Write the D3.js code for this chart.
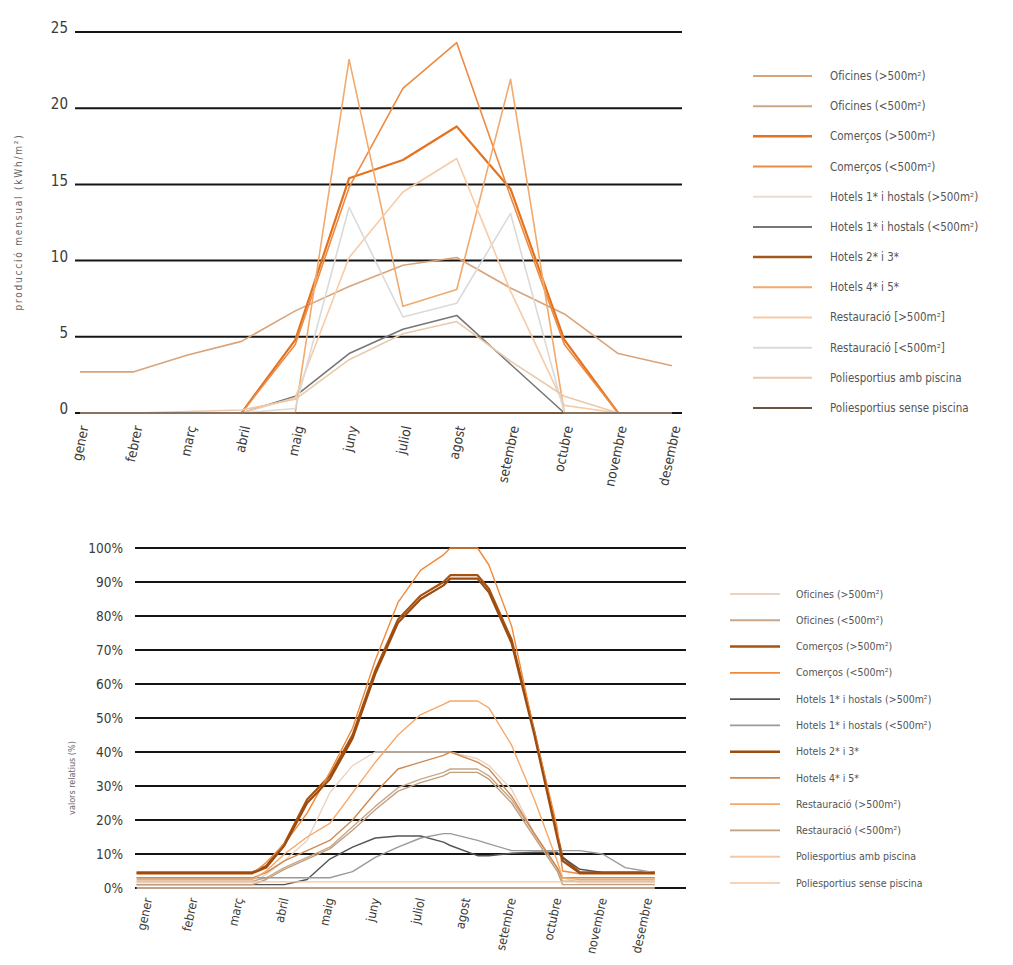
<!DOCTYPE html>
<html lang="ca">
<head>
<meta charset="UTF-8">
<title>Producció mensual</title>
<script src="https://d3js.org/d3.v7.min.js"></script>
<style>
  body { margin: 0; background: #fff; }
  svg text { font-family: "DejaVu Sans Condensed", "Liberation Sans Narrow", Arial, sans-serif; fill: #3a3a3a; }
</style>
</head>
<body>
<div id="chart"></div>
<script>
// ---- shared categories ----
const months = ["gener", "febrer", "març", "abril", "maig", "juny", "juliol", "agost", "setembre", "octubre", "novembre", "desembre"];

// ---- top chart: monthly production (kWh/m²) ----
const topTicks = [0, 5, 10, 15, 20, 25];
const topNames = ["Oficines (>500m²)", "Oficines (<500m²)", "Comerços (>500m²)", "Comerços (<500m²)",
  "Hotels 1* i hostals (>500m²)", "Hotels 1* i hostals (<500m²)", "Hotels 2* i 3*", "Hotels 4* i 5*",
  "Restauració [>500m²]", "Restauració [<500m²]", "Poliesportius amb piscina", "Poliesportius sense piscina"];
const topColors = ["#d9a47a", "#c9aa88", "#e4731f", "#ec8b45", "#e9ddd3", "#777777",
  "#a0581e", "#f2a96c", "#f7cba6", "#dadada", "#ebc9aa", "#6b5540"];

const oficinesGran = [2.7, 2.7, 3.8, 4.7, 6.7, 8.3, 9.7, 10.2, 8.2, 6.5, 3.9, 3.1];
const oficinesPetit = [0, 0, 0, 0, 0, 0, 0, 0, 0, 0, 0, 0];
const comercosGran = [0, 0, 0, 0, 4.8, 15.4, 16.6, 18.8, 14.7, 4.8, 0, 0];
const comercosPetit = [0, 0, 0, 0, 4.5, 14.8, 21.3, 24.3, 14.2, 4.5, 0, 0];
const hotels1Gran = [0, 0, 0, 0, 0, 0, 0, 0, 0, 0, 0, 0];
const hotels1Petit = [0, 0, 0, 0, 1.1, 3.9, 5.5, 6.4, 3.2, 0, 0, 0];
const hotels23 = [0, 0, 0, 0, 0, 0, 0, 0, 0, 0, 0, 0];
const hotels45 = [0, 0, 0, 0, 0, 23.2, 7.0, 8.1, 21.9, 0, 0, 0];
const restGran = [0, 0, 0, 0, 1.0, 10.2, 14.5, 16.7, 8.0, 0.5, 0, 0];
const restPetit = [0, 0, 0, 0, 0.3, 13.5, 6.3, 7.2, 13.1, 0, 0, 0];
const poliAmb = [0, 0, 0.1, 0.2, 0.9, 3.5, 5.2, 6.0, 3.4, 1.1, 0, 0];
const poliSense = [0, 0, 0, 0, 0, 0, 0, 0, 0, 0, 0, 0];
const topSeries = [oficinesGran, oficinesPetit, comercosGran, comercosPetit, hotels1Gran, hotels1Petit,
  hotels23, hotels45, restGran, restPetit, poliAmb, poliSense];

// ---- bottom chart: relative values (%) ----
const relTicks = [0, 10, 20, 30, 40, 50, 60, 70, 80, 90, 100];
const relNames = ["Oficines (>500m²)", "Oficines (<500m²)", "Comerços (>500m²)", "Comerços (<500m²)",
  "Hotels 1* i hostals (>500m²)", "Hotels 1* i hostals (<500m²)", "Hotels 2* i 3*", "Hotels 4* i 5*",
  "Restauració (>500m²)", "Restauració (<500m²)", "Poliesportius amb piscina", "Poliesportius sense piscina"];
const relColors = ["#ead3c3", "#c8a888", "#a8520f", "#f08a3a", "#555555", "#9a9a9a",
  "#9c4c10", "#d08a50", "#f5a868", "#c0a080", "#f2c8a8", "#f8d2b4"];
// sample positions in month units (0 = gener)
const relPos = [-0.25, 2.3, 2.6, 3, 3.5, 4, 4.5, 5, 5.5, 6, 6.5, 6.65, 7.25, 7.5, 8, 8.5, 9, 9.12, 9.5, 10, 10.5, 11.15];

const relOficinesGran = [1.5, 1.5, 4, 8, 14, 28, 36, 40, 40, 40, 40, 40, 38, 36, 29, 16, 6, 3, 1.5, 1.5, 1.5, 1.5];
const relOficinesPetit = [2, 2, 3, 6, 9, 12, 18, 24, 29.5, 32, 34, 35, 35, 33, 26, 16, 6, 2, 2, 2, 2, 2];
const relComercosGran = [4.6, 4.6, 6.5, 13, 26, 33, 45, 64, 79, 86, 90, 92, 92, 88, 73, 46, 16, 9, 4.6, 4.6, 4.6, 4.6];
const relComercosPetit = [4.2, 4.2, 7.5, 13, 22, 34, 47, 67, 84, 93.5, 98, 100, 100, 95, 77, 46, 18, 5, 4.2, 4.2, 4.2, 4.2];
const relHotels1Gran = [1, 1, 1, 1, 2.5, 8.5, 12, 14.7, 15.3, 15.3, 13.5, 12.5, 9.5, 9.5, 10.2, 10.5, 10.5, 9, 5.5, 4.6, 4.6, 4.6];
const relHotels1Petit = [3, 3, 3, 3, 3, 3, 4.8, 9, 12, 14.7, 16, 16, 14, 13, 11, 11, 11, 11, 11, 10, 6, 4.5];
const relHotels23 = [4.4, 4.4, 6, 12.5, 25, 32, 44, 63, 78, 85, 89, 91, 91, 87, 72, 45, 15, 8, 4.4, 4.4, 4.4, 4.4];
const relHotels45 = [3, 3, 4.5, 8, 11, 14, 20, 28, 35, 37, 39, 40, 37, 35, 27, 16, 6, 3, 3, 3, 3, 3];
const relRestGran = [2.5, 2.5, 5, 10, 15, 19, 28, 37, 45, 51, 54, 55, 55, 53, 42, 26, 8, 3, 2.5, 2.5, 2.5, 2.5];
const relRestPetit = [1, 1, 2.5, 5.5, 8.5, 11.5, 17, 23, 28.5, 31, 33, 34, 34, 32, 25, 15, 5, 1, 1, 1, 1, 1];
const relPoliAmb = [1.8, 1.8, 1.8, 1.8, 1.8, 1.8, 1.8, 1.8, 1.8, 1.8, 1.8, 1.8, 1.8, 1.8, 1.8, 1.8, 1.8, 1.8, 1.8, 1.8, 1.8, 1.8];
const relPoliSense = [0, 0, 0, 0, 0, 0, 0, 0, 0, 0, 0, 0, 0, 0, 0, 0, 0, 0, 0, 0, 0, 0];
const relSeries = [relOficinesGran, relOficinesPetit, relComercosGran, relComercosPetit, relHotels1Gran, relHotels1Petit,
  relHotels23, relHotels45, relRestGran, relRestPetit, relPoliAmb, relPoliSense];

const W = 1013, H = 965;
const svg = d3.select("#chart").append("svg")
  .attr("width", W).attr("height", H)
  .style("display", "block");

// thicker strokes for the two heavy series
const heavy = new Set([2, 6]);

// ================= TOP CHART =================
const xTop = d3.scalePoint().domain(months).range([80, 672]);
const yTop = d3.scaleLinear().domain([0, 25]).range([413, 32]);
const gTop = svg.append("g");

gTop.selectAll("line.grid")
  .data(topTicks).enter().append("line")
  .attr("x1", 75).attr("x2", 682)
  .attr("y1", d => yTop(d)).attr("y2", d => yTop(d))
  .attr("stroke", "#151515").attr("stroke-width", 2);

gTop.selectAll("text.ytick")
  .data(topTicks).enter().append("text")
  .attr("x", 68).attr("y", d => yTop(d) - 4)
  .attr("dy", "0.35em")
  .attr("text-anchor", "end")
  .style("font-size", "15px")
  .text(d => d);

gTop.append("text")
  .attr("transform", "translate(22,222) rotate(-90)")
  .attr("text-anchor", "middle")
  .style("font-size", "10px").style("fill", "#666").style("letter-spacing", "1.8px")
  .text("producció mensual (kWh/m²)");

const lineTop = d3.line()
  .x((d, i) => xTop(months[i]))
  .y(d => yTop(d));

topSeries.forEach((s, k) => {
  gTop.append("path")
    .datum(s)
    .attr("d", lineTop)
    .attr("fill", "none")
    .attr("stroke", topColors[k])
    .attr("stroke-width", heavy.has(k) ? 2.2 : 1.6)
    .attr("stroke-linejoin", "round");
});

gTop.selectAll("text.xlab")
  .data(months).enter().append("text")
  .attr("transform", d => `translate(${xTop(d) + 4},426) rotate(-78)`)
  .attr("text-anchor", "end")
  .attr("dy", "0.35em")
  .style("font-size", "13.5px")
  .text(d => d);

// top legend
const legTop = gTop.append("g");
const legTopY = d3.scalePoint().domain(d3.range(topNames.length)).range([76, 408]);
topNames.forEach((n, k) => {
  const y = legTopY(k);
  legTop.append("line")
    .attr("x1", 753).attr("x2", 812).attr("y1", y).attr("y2", y)
    .attr("stroke", topColors[k]).attr("stroke-width", heavy.has(k) ? 2.5 : 2);
  legTop.append("text")
    .attr("x", 830).attr("y", y).attr("dy", "0.35em")
    .style("font-size", "11.5px").style("fill", "#555")
    .text(n);
});

// ================= BOTTOM CHART =================
const xBot = d3.scaleLinear().domain([0, 11]).range([148, 648]);
const yBot = d3.scaleLinear().domain([0, 100]).range([888, 548]);
const gBot = svg.append("g");

gBot.selectAll("line.grid")
  .data(relTicks).enter().append("line")
  .attr("x1", 135).attr("x2", 686)
  .attr("y1", d => yBot(d)).attr("y2", d => yBot(d))
  .attr("stroke", "#151515").attr("stroke-width", 2);

gBot.selectAll("text.ytick")
  .data(relTicks).enter().append("text")
  .attr("x", 123).attr("y", d => yBot(d))
  .attr("dy", "0.35em")
  .attr("text-anchor", "end")
  .style("font-size", "13.5px")
  .text(d => d + "%");

gBot.append("text")
  .attr("transform", "translate(75,778) rotate(-90)")
  .attr("text-anchor", "middle")
  .style("font-size", "9px").style("fill", "#666")
  .text("valors relatius (%)");

const lineBot = d3.line()
  .x((d, i) => xBot(relPos[i]))
  .y(d => yBot(d));

relSeries.forEach((s, k) => {
  gBot.append("path")
    .datum(s)
    .attr("d", lineBot)
    .attr("fill", "none")
    .attr("stroke", relColors[k])
    .attr("stroke-width", heavy.has(k) ? 2.2 : 1.4)
    .attr("stroke-linejoin", "round");
});

gBot.selectAll("text.xlab")
  .data(months).enter().append("text")
  .attr("transform", (d, i) => `translate(${xBot(i)},898) rotate(-78)`)
  .attr("text-anchor", "end")
  .attr("dy", "0.35em")
  .style("font-size", "12.5px")
  .text(d => d);

// bottom legend
const legBot = gBot.append("g");
const legBotY = d3.scalePoint().domain(d3.range(relNames.length)).range([594, 883]);
relNames.forEach((n, k) => {
  const y = legBotY(k);
  legBot.append("line")
    .attr("x1", 730).attr("x2", 780).attr("y1", y).attr("y2", y)
    .attr("stroke", relColors[k]).attr("stroke-width", heavy.has(k) ? 2.5 : 1.8);
  legBot.append("text")
    .attr("x", 796).attr("y", y).attr("dy", "0.35em")
    .style("font-size", "10.5px").style("fill", "#555")
    .text(n);
});
</script>
</body>
</html>
